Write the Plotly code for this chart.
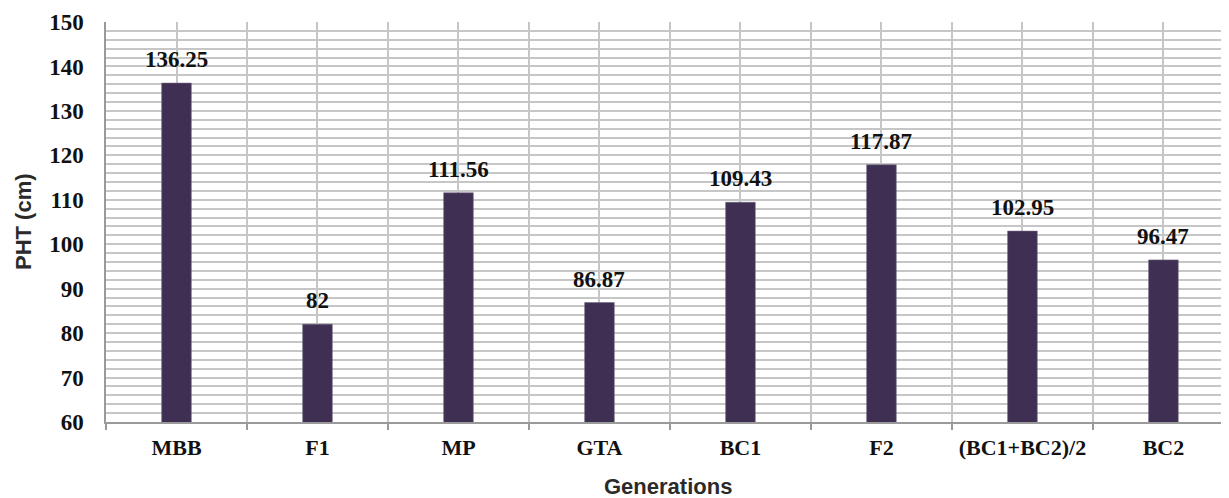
import plotly.graph_objects as go

categories = ["MBB", "F1", "MP", "GTA", "BC1", "F2", "(BC1+BC2)/2", "BC2"]
values = [136.25, 82, 111.56, 86.87, 109.43, 117.87, 102.95, 96.47]
labels = ["136.25", "82", "111.56", "86.87", "109.43", "117.87", "102.95", "96.47"]
y_ticks = [60, 70, 80, 90, 100, 110, 120, 130, 140, 150]

xs = list(range(len(categories)))
grid = "#c6c6c6"
serif = "Liberation Serif"

fig = go.Figure()
fig.add_trace(go.Bar(
    x=xs, y=values, width=0.21,
    marker=dict(color="#3f2f52", line=dict(color="#6f6480", width=0.6)),
    hoverinfo="skip",
))

for x, v, t in zip(xs, values, labels):
    fig.add_annotation(x=x, y=v, text="<b>%s</b>" % t, showarrow=False,
                       yanchor="bottom", yshift=9,
                       font=dict(family=serif, size=23, color="#111111"))

fig.add_annotation(xref="paper", yref="paper", x=0.5, y=0, yshift=-64,
                   text="<b>Generations</b>", showarrow=False, yanchor="middle",
                   font=dict(family="Liberation Sans", size=22, color="#2a2a2a"))
fig.add_annotation(xref="paper", yref="paper", x=0, y=0.5, xshift=-83,
                   text="<b>PHT (cm)</b>", showarrow=False, textangle=-90, xanchor="center",
                   font=dict(family="Liberation Sans", size=22, color="#2a2a2a"))

# page body has an 8px default margin; figure sized to fill the rest of the window
fig.update_layout(
    width=1221, height=490,
    margin=dict(l=98, r=0, t=14, b=76),
    paper_bgcolor="white", plot_bgcolor="white",
    showlegend=False,
    xaxis=dict(
        automargin=False,
        range=[-0.5, 7.465],
        tickvals=xs, ticktext=["<b>%s</b>" % c for c in categories],
        tickfont=dict(family=serif, size=22, color="#111111"),
        showgrid=True, gridcolor=grid, gridwidth=1.5,
        ticks="outside", ticklen=5, tickcolor="rgba(0,0,0,0)",
        showline=True, linecolor="#9a9a9a", linewidth=1.5,
        zeroline=False,
        minor=dict(tickvals=[i + 0.5 for i in range(-1, len(categories))],
                   showgrid=True, gridcolor=grid, gridwidth=1.5,
                   ticks="outside", ticklen=6, tickcolor="#9a9a9a", tickwidth=1.5),
    ),
    yaxis=dict(
        automargin=False,
        range=[60, 150],
        tickvals=y_ticks,
        ticktext=["<b>%d</b>" % t for t in y_ticks],
        tickfont=dict(family=serif, size=23, color="#111111"),
        showgrid=True, gridcolor=grid, gridwidth=1.5,
        ticks="outside", ticklen=16, tickcolor="rgba(0,0,0,0)",
        showline=True, linecolor="#9a9a9a", linewidth=1.5,
        zeroline=False,
        minor=dict(dtick=2, tick0=60, showgrid=True, gridcolor=grid, gridwidth=1.5),
    ),
)

fig.write_html("out.html")
